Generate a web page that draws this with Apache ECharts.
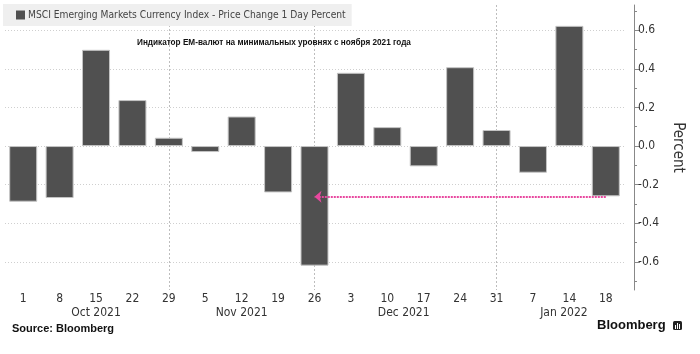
<!DOCTYPE html>
<html>
<head>
<meta charset="utf-8">
<script src="https://cdn.jsdelivr.net/npm/echarts@6/dist/echarts.min.js"></script>
<style>html,body{margin:0;padding:0;background:#fff;}#c{width:700px;height:354px;}</style>
</head>
<body>
<div id="c"></div>
<script>
// ---- data ----
var categories = ['1','8','15','22','29','5','12','19','26','3','10','17','24','31','7','14','18'];
var values = [-0.288,-0.269,0.498,0.238,0.043,-0.031,0.153,-0.24,-0.619,0.379,0.098,-0.105,0.408,0.083,-0.138,0.622,-0.26];
var seriesName = 'MSCI Emerging Markets Currency Index - Price Change 1 Day Percent';
var monthLabels = ['Oct 2021','Nov 2021','Dec 2021','Jan 2022'];
var monthLabelPos = [2, 6, 10.45, 14.85];
var monthEndCats = ['29','26','31'];
var yMajorTicks = [-0.6,-0.4,-0.2,0,0.2,0.4,0.6];
var yMinorTicks = [-0.7,-0.5,-0.3,-0.1,0.1,0.3,0.5,0.7];
var arrowFrom = ['18', -0.262];
var arrowTo = ['26', -0.262];
var subtitle = 'Индикатор EM-валют на минимальных уровнях с ноября 2021 года';

var FONT = '"DejaVu Sans Condensed", "Liberation Sans", sans-serif';
var chart = echarts.init(document.getElementById('c'));
var yMin = -0.745, yMax = 0.73;

chart.setOption({
  animation: false,
  backgroundColor: '#ffffff',
  textStyle: {fontFamily: FONT},
  title: [
    {text: subtitle, left: 137, top: 39, padding: 0, textStyle: {fontFamily: '"Liberation Sans", sans-serif', fontWeight: 'bold', fontSize: 8.2, color: '#111'}},
    {text: 'Source: Bloomberg', left: 12, top: 323, padding: 0, textStyle: {fontFamily: '"Liberation Sans", sans-serif', fontWeight: 'bold', fontSize: 11, color: '#111'}},
    {text: 'Bloomberg', left: 597, top: 319, padding: 0, textStyle: {fontFamily: '"Liberation Sans", sans-serif', fontWeight: 'bold', fontSize: 13, color: '#111'}}
  ],
  legend: {
    left: 3, top: 4,
    padding: [6, 6, 6, 13],
    backgroundColor: '#efefef',
    icon: 'rect', itemWidth: 9, itemHeight: 9,
    itemStyle: {borderWidth: 0, color: '#505050'},
    textStyle: {fontFamily: FONT, fontSize: 10.2, color: '#444', padding: [0, 0, 0, -2]},
    data: [seriesName]
  },
  grid: {left: 5, right: 76, top: 5, bottom: 64, containLabel: false},
  xAxis: [
    {
      type: 'category', data: categories, position: 'bottom',
      axisLine: {show: false}, axisTick: {show: false},
      axisLabel: {margin: 3, fontSize: 12, color: '#333', fontFamily: FONT}
    },
    {
      type: 'value', min: -0.5, max: 16.5, position: 'bottom', offset: 14,
      axisLine: {show: false, onZero: false}, axisTick: {show: false}, splitLine: {show: false},
      axisLabel: {
        margin: 3, fontSize: 12, color: '#333', fontFamily: FONT,
        customValues: monthLabelPos,
        formatter: function (v) { var i = monthLabelPos.indexOf(v); return i >= 0 ? monthLabels[i] : ''; }
      }
    }
  ],
  yAxis: [
    {
      type: 'value', position: 'right', offset: 10, min: yMin, max: yMax,
      name: 'Percent', nameLocation: 'middle', nameRotate: -90, nameGap: 23,
      nameTextStyle: {fontSize: 15, color: '#333', fontFamily: FONT},
      axisLine: {show: true, onZero: false, lineStyle: {color: '#888', width: 1}},
      axisTick: {show: true, inside: false, length: 3, customValues: yMinorTicks, lineStyle: {color: '#888'}},
      axisLabel: {
        margin: 4, fontSize: 12, color: '#333', fontFamily: FONT,
        customValues: yMajorTicks,
        formatter: function (v) { return v.toFixed(1); }
      },
      splitLine: {show: false}
    },
    {
      type: 'value', position: 'right', offset: 10, min: yMin, max: yMax,
      axisLine: {show: false, onZero: false},
      axisTick: {show: true, inside: false, length: 6, customValues: yMajorTicks, lineStyle: {color: '#888'}},
      axisLabel: {show: false},
      splitLine: {show: true, lineStyle: {color: '#cfcfcf', type: [1, 2], width: 1}}
    }
  ],
  series: [
    {
      name: seriesName, type: 'bar', xAxisIndex: 0, yAxisIndex: 0,
      data: values, barWidth: 28,
      itemStyle: {color: '#505050', borderColor: '#c4c4c4', borderWidth: 1},
      z: 3
    },
    {
      type: 'line', xAxisIndex: 0, yAxisIndex: 0, data: [], silent: true, z: 1,
      markLine: {
        silent: true, symbol: ['none', 'none'], z: 1,
        label: {show: false},
        lineStyle: {color: '#bdbdbd', type: [2, 2], width: 1, opacity: 1},
        data: monthEndCats.map(function (c) { return [{coord: [categories.indexOf(c), yMax]}, {coord: [categories.indexOf(c), yMin]}]; })
      }
    },
    {
      type: 'line', xAxisIndex: 0, yAxisIndex: 0, data: [], silent: true,
      markLine: {
        silent: true, symbol: ['none', 'arrow'], symbolSize: [9, 7], z: 6,
        label: {show: false},
        lineStyle: {color: '#e8489f', type: [2, 1], width: 2, opacity: 1},
        data: [[{coord: arrowFrom}, {coord: arrowTo}]]
      },
      z: 5
    }
  ],
  graphic: [
    {type: 'rect', left: 673, top: 321, shape: {width: 9, height: 9, r: 1.5}, style: {fill: '#222'}},
    {type: 'rect', left: 675, top: 325, shape: {width: 1, height: 4}, style: {fill: '#fff'}},
    {type: 'rect', left: 677, top: 323, shape: {width: 1, height: 6}, style: {fill: '#fff'}},
    {type: 'rect', left: 679, top: 324, shape: {width: 1, height: 5}, style: {fill: '#fff'}}
  ]
});
</script>
</body>
</html>
